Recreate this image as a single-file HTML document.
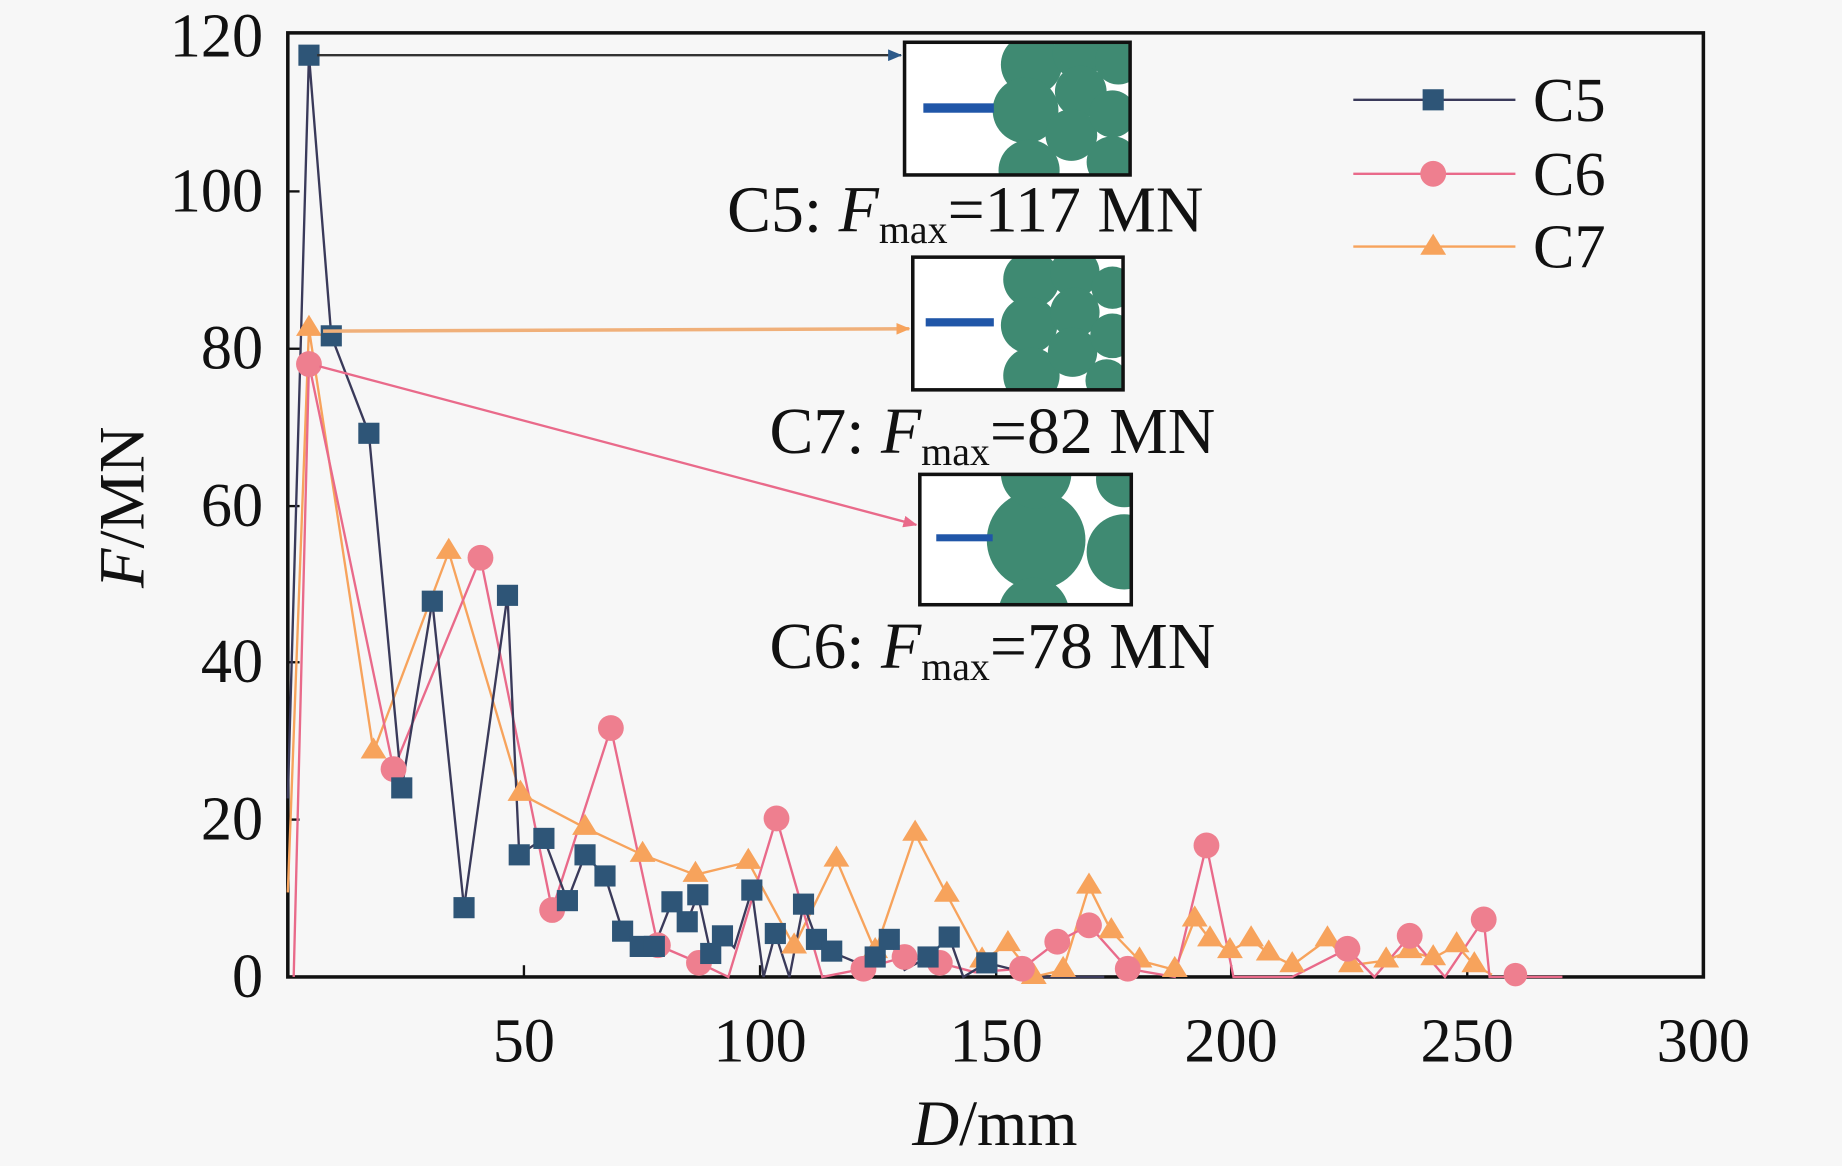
<!DOCTYPE html>
<html><head><meta charset="utf-8"><style>
html,body{margin:0;padding:0;background:#f7f7f7;}
svg{display:block;}
text{font-family:"Liberation Serif",serif;fill:#111;}
</style></head><body>
<svg width="1842" height="1166" viewBox="0 0 1568 993" preserveAspectRatio="none" xmlns="http://www.w3.org/2000/svg">
<defs>
<marker id="ak" markerWidth="12" markerHeight="10" refX="11" refY="5" orient="auto" markerUnits="userSpaceOnUse"><path d="M0,0L12,5L0,10z" fill="#2c5a8a"/></marker>
<marker id="ao" markerWidth="12" markerHeight="10" refX="11" refY="5" orient="auto" markerUnits="userSpaceOnUse"><path d="M0,0L12,5L0,10z" fill="#f7a35c"/></marker>
<marker id="ap" markerWidth="12" markerHeight="10" refX="11" refY="5" orient="auto" markerUnits="userSpaceOnUse"><path d="M0,0L12,5L0,10z" fill="#e96a8a"/></marker>
<clipPath id="c1"><rect x="771" y="37" width="190" height="111"/></clipPath>
<clipPath id="c2"><rect x="778" y="220" width="177" height="111"/></clipPath>
<clipPath id="c3"><rect x="784" y="405" width="178" height="109"/></clipPath>
</defs>
<rect width="1568" height="993" fill="#f7f7f7"/>
<rect x="245" y="28" width="1205" height="804" fill="none" stroke="#111" stroke-width="3"/>
<g stroke="#111" stroke-width="2">
<line x1="245" y1="698" x2="255" y2="698"/><line x1="245" y1="564" x2="255" y2="564"/><line x1="245" y1="431" x2="255" y2="431"/><line x1="245" y1="297" x2="255" y2="297"/><line x1="245" y1="163" x2="255" y2="163"/>
<line x1="446" y1="832" x2="446" y2="822"/><line x1="647" y1="832" x2="647" y2="822"/><line x1="848" y1="832" x2="848" y2="822"/><line x1="1048" y1="832" x2="1048" y2="822"/><line x1="1249" y1="832" x2="1249" y2="822"/>
</g>
<g font-size="53" text-anchor="end">
<text x="224" y="849">0</text><text x="224" y="715">20</text><text x="224" y="581">40</text><text x="224" y="448">60</text><text x="224" y="314">80</text><text x="224" y="180">100</text><text x="224" y="48">120</text>
</g>
<g font-size="53" text-anchor="middle">
<text x="446" y="904">50</text><text x="647" y="904">100</text><text x="848" y="904">150</text><text x="1048" y="904">200</text><text x="1249" y="904">250</text><text x="1450" y="904">300</text>
</g>
<text x="847" y="975" font-size="55" text-anchor="middle"><tspan font-style="italic">D</tspan>/mm</text>
<text transform="translate(122,432) rotate(-90)" font-size="55" text-anchor="middle"><tspan font-style="italic">F</tspan>/MN</text>
<polyline fill="none" stroke="#f7a35c" stroke-width="2" points="245,760 263,280 318,640 382,470 443,676 498,705 547,728 592,745 637,734 676,806 712,732 745,810 779,710 806,762 836,818 858,804 880,832 905,826 927,755 946,793 970,818 1000,826 1017,783 1030,800 1047,810 1065,800 1080,812 1100,822 1130,800 1150,822 1180,818 1200,810 1220,816 1240,805 1255,822 1270,830"/>
<polyline fill="none" stroke="#e96a8a" stroke-width="2" points="250,832 263,310 335,655 409,475 470,775 520,620 560,805 595,820 620,832 661,697 700,832 735,825 770,815 800,820 830,828 870,825 900,802 927,788 960,825 1000,832 1027,720 1050,832 1100,832 1147,808 1170,832 1200,797 1230,832 1263,783 1268,832 1330,832"/>
<polyline fill="none" stroke="#3a3a5a" stroke-width="2" points="245,680 263,47 282,286 314,369 342,671 368,512 395,773 432,507 442,728 463,714 483,767 498,728 515,746 530,793 545,806 557,806 572,768 585,785 594,762 605,812 615,797 625,807 640,758 650,832 660,795 672,832 684,770 695,800 708,810 718,815 730,820 745,815 757,800 770,826 790,815 808,798 820,832 840,820 860,825 880,832 940,832"/>
<g fill="#f7a35c">
<path d="M263,268l11,18h-22zM318,628l11,18h-22zM382,458l11,18h-22zM443,664l11,18h-22zM498,693l11,18h-22zM547,716l11,18h-22zM592,733l11,18h-22zM637,722l11,18h-22zM676,794l11,18h-22zM712,720l11,18h-22zM745,798l11,18h-22zM779,698l11,18h-22zM806,750l11,18h-22zM836,806l11,18h-22zM858,792l11,18h-22zM880,820l11,18h-22zM905,814l11,18h-22zM927,743l11,18h-22zM946,781l11,18h-22zM970,806l11,18h-22zM1000,814l11,18h-22zM1017,771l11,18h-22zM1030,788l11,18h-22zM1047,798l11,18h-22zM1065,788l11,18h-22zM1080,800l11,18h-22zM1100,810l11,18h-22zM1130,788l11,18h-22zM1150,810l11,18h-22zM1180,806l11,18h-22zM1200,798l11,18h-22zM1220,804l11,18h-22zM1240,793l11,18h-22zM1255,810l11,18h-22z"/>
</g>
<g fill="#ee7f8f">
<circle cx="263" cy="310" r="11"/><circle cx="335" cy="655" r="11"/><circle cx="409" cy="475" r="11"/><circle cx="470" cy="775" r="11"/><circle cx="520" cy="620" r="11"/><circle cx="560" cy="805" r="11"/><circle cx="595" cy="820" r="11"/><circle cx="661" cy="697" r="11"/><circle cx="735" cy="825" r="11"/><circle cx="770" cy="815" r="11"/><circle cx="800" cy="820" r="11"/><circle cx="870" cy="825" r="11"/><circle cx="900" cy="802" r="11"/><circle cx="927" cy="788" r="11"/><circle cx="960" cy="825" r="11"/><circle cx="1027" cy="720" r="11"/><circle cx="1147" cy="808" r="11"/><circle cx="1200" cy="797" r="11"/><circle cx="1263" cy="783" r="11"/><circle cx="1290" cy="830" r="10"/>
</g>
<g fill="#2e5577">
<rect x="254" y="38" width="18" height="18"/><rect x="273" y="277" width="18" height="18"/><rect x="305" y="360" width="18" height="18"/><rect x="333" y="662" width="18" height="18"/><rect x="359" y="503" width="18" height="18"/><rect x="386" y="764" width="18" height="18"/><rect x="423" y="498" width="18" height="18"/><rect x="433" y="719" width="18" height="18"/><rect x="454" y="705" width="18" height="18"/><rect x="474" y="758" width="18" height="18"/><rect x="489" y="719" width="18" height="18"/><rect x="506" y="737" width="18" height="18"/><rect x="521" y="784" width="18" height="18"/><rect x="536" y="797" width="18" height="18"/><rect x="548" y="797" width="18" height="18"/><rect x="563" y="759" width="18" height="18"/><rect x="576" y="776" width="18" height="18"/><rect x="585" y="753" width="18" height="18"/><rect x="596" y="803" width="18" height="18"/><rect x="606" y="788" width="18" height="18"/><rect x="631" y="749" width="18" height="18"/><rect x="651" y="786" width="18" height="18"/><rect x="675" y="761" width="18" height="18"/><rect x="686" y="791" width="18" height="18"/><rect x="699" y="801" width="18" height="18"/><rect x="736" y="806" width="18" height="18"/><rect x="748" y="791" width="18" height="18"/><rect x="781" y="806" width="18" height="18"/><rect x="799" y="789" width="18" height="18"/><rect x="831" y="811" width="18" height="18"/>
</g>
<line x1="270" y1="47" x2="767" y2="47" stroke="#333" stroke-width="2" marker-end="url(#ak)"/>
<line x1="275" y1="282" x2="774" y2="280" stroke="#f0b07a" stroke-width="3" marker-end="url(#ao)"/>
<line x1="272" y1="312" x2="780" y2="447" stroke="#e96a8a" stroke-width="2" marker-end="url(#ap)"/>
<g clip-path="url(#c1)" fill="#3f8a72">
<rect x="771" y="37" width="190" height="111" fill="#fff"/>
<circle cx="878" cy="55" r="26"/><circle cx="873" cy="94" r="28"/><circle cx="876" cy="145" r="26"/><circle cx="918" cy="45" r="22"/><circle cx="920" cy="78" r="22"/><circle cx="912" cy="115" r="22"/><circle cx="952" cy="52" r="20"/><circle cx="947" cy="97" r="20"/><circle cx="947" cy="138" r="22"/>
<rect x="786" y="88" width="60" height="8" fill="#2056a8"/>
</g>
<rect x="770" y="36" width="192" height="113" fill="none" stroke="#111" stroke-width="3"/>
<g clip-path="url(#c2)" fill="#3f8a72">
<rect x="778" y="220" width="177" height="111" fill="#fff"/>
<circle cx="878" cy="238" r="24"/><circle cx="876" cy="277" r="24"/><circle cx="878" cy="320" r="24"/><circle cx="915" cy="232" r="21"/><circle cx="915" cy="266" r="21"/><circle cx="913" cy="300" r="21"/><circle cx="947" cy="245" r="18"/><circle cx="947" cy="286" r="19"/><circle cx="942" cy="324" r="18"/>
<rect x="788" y="271" width="58" height="7" fill="#2056a8"/>
</g>
<rect x="777" y="219" width="179" height="113" fill="none" stroke="#111" stroke-width="3"/>
<g clip-path="url(#c3)" fill="#3f8a72">
<rect x="784" y="405" width="178" height="109" fill="#fff"/>
<circle cx="882" cy="460" r="42"/><circle cx="882" cy="403" r="30"/><circle cx="880" cy="522" r="30"/><circle cx="957" cy="470" r="32"/><circle cx="957" cy="408" r="24"/>
<rect x="797" y="455" width="48" height="6" fill="#2056a8"/>
</g>
<rect x="783" y="404" width="180" height="111" fill="none" stroke="#111" stroke-width="3"/>
<g font-size="56">
<text x="619" y="197">C5: <tspan font-style="italic">F</tspan><tspan font-size="34" dy="10">max</tspan><tspan dy="-10">=117 MN</tspan></text>
<text x="655" y="386">C7: <tspan font-style="italic">F</tspan><tspan font-size="34" dy="10">max</tspan><tspan dy="-10">=82 MN</tspan></text>
<text x="655" y="569">C6: <tspan font-style="italic">F</tspan><tspan font-size="34" dy="10">max</tspan><tspan dy="-10">=78 MN</tspan></text>
</g>
<line x1="1152" y1="85" x2="1290" y2="85" stroke="#3a3a5a" stroke-width="2"/><rect x="1211" y="76" width="18" height="18" fill="#2e5577"/>
<line x1="1152" y1="148" x2="1290" y2="148" stroke="#e96a8a" stroke-width="2"/><circle cx="1220" cy="148" r="11" fill="#ee7f8f"/>
<line x1="1152" y1="210" x2="1290" y2="210" stroke="#f7a35c" stroke-width="2"/><path d="M1220,199l11,18h-22z" fill="#f7a35c"/>
<g font-size="53"><text x="1305" y="103">C5</text><text x="1305" y="166">C6</text><text x="1305" y="228">C7</text></g>
</svg>
</body></html>
